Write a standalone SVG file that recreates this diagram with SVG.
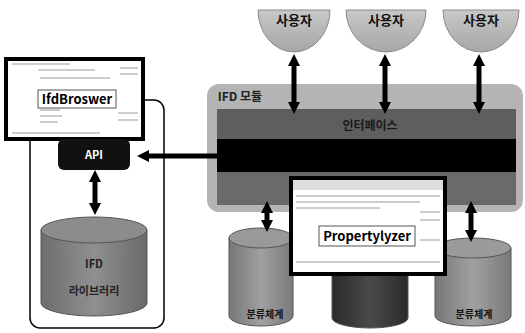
<svg xmlns="http://www.w3.org/2000/svg" width="525" height="333" viewBox="0 0 525 333">
<defs>
<style>
.lbl{font-family:"Noto Sans CJK KR","Noto Sans",sans-serif;font-weight:bold;text-anchor:middle;}
.user{fill:url(#gUser);stroke:#8a8a8a;stroke-width:1}
.cyl{stroke:#555;stroke-width:1}
.arr{stroke:#000;stroke-width:5;fill:none}
.shot{fill:#fff;stroke:#000;stroke-width:4}
.ui{stroke:#9a9a9a;stroke-width:1}
</style>
<linearGradient id="gUser" x1="0" y1="0" x2="0" y2="1"><stop offset="0" stop-color="#c8c8c8"/><stop offset="1" stop-color="#a6a6a6"/></linearGradient>
<linearGradient id="gCyl" x1="0" y1="0" x2="1" y2="0"><stop offset="0" stop-color="#6e6e6e"/><stop offset="0.5" stop-color="#8f8f8f"/><stop offset="1" stop-color="#6a6a6a"/></linearGradient>
<linearGradient id="gCylL" x1="0" y1="0" x2="1" y2="0"><stop offset="0" stop-color="#777"/><stop offset="0.5" stop-color="#a0a0a0"/><stop offset="1" stop-color="#7a7a7a"/></linearGradient>
<linearGradient id="gCylD" x1="0" y1="0" x2="1" y2="0"><stop offset="0" stop-color="#2a2a2a"/><stop offset="0.5" stop-color="#4a4a4a"/><stop offset="1" stop-color="#2a2a2a"/></linearGradient>
<marker id="ah" viewBox="0 0 10 10" refX="5" refY="5" markerWidth="2.4" markerHeight="2.4" orient="auto-start-reverse"><path d="M0,0 L10,5 L0,10 z" fill="#000"/></marker>
</defs>
<rect width="525" height="333" fill="#fff"/>

<!-- IFD module -->
<g id="ifd-module">
<rect x="207" y="84" width="316" height="128" rx="12" fill="#b4b4b4"/>
<rect x="217" y="109" width="299" height="96" fill="#4a4a4a"/>
<rect x="217" y="109" width="299" height="30" fill="#5e5e5e"/>
<rect x="217" y="139" width="299" height="33" fill="#000"/>
<rect x="217" y="172" width="299" height="33" fill="#6a6a6a"/>
<text class="lbl" x="240" y="101" font-size="12" fill="#222">IFD 모듈</text>
<text class="lbl" x="370" y="130" font-size="12" fill="#1a1a1a">인터페이스</text>
</g>

<!-- users -->
<g id="user1"><path class="user" d="M258,10 L330,10 A36,42 0 0 1 258,10 Z"/><text class="lbl" x="294" y="25" font-size="13" fill="#111">사용자</text></g>
<g id="user2"><path class="user" d="M346,10 L426,10 A40,42 0 0 1 346,10 Z"/><text class="lbl" x="386" y="25" font-size="13" fill="#111">사용자</text></g>
<g id="user3"><path class="user" d="M443,10 L519,10 A38,42 0 0 1 443,10 Z"/><text class="lbl" x="481" y="25" font-size="13" fill="#111">사용자</text></g>

<!-- left container -->
<g id="ifd-browser-group">
<rect x="30" y="100" width="134" height="228" rx="10" fill="none" stroke="#000" stroke-width="1.5"/>
</g>
<g id="ifd-browser">
<rect class="shot" x="6" y="59" width="137" height="80"/>
<line class="ui" x1="12" y1="64" x2="70" y2="64"/>
<line class="ui" x1="38" y1="70" x2="95" y2="70"/>
<line class="ui" x1="40" y1="78" x2="110" y2="78"/>
<line class="ui" x1="120" y1="68" x2="138" y2="68"/>
<line class="ui" x1="120" y1="74" x2="138" y2="74"/>
<line class="ui" x1="40" y1="110" x2="60" y2="110"/>
<line class="ui" x1="40" y1="116" x2="62" y2="116"/>
<line class="ui" x1="40" y1="122" x2="58" y2="122"/>
<line class="ui" x1="118" y1="113" x2="138" y2="113"/>
<line class="ui" x1="118" y1="120" x2="138" y2="120"/>
<line class="ui" x1="12" y1="133" x2="100" y2="133"/>
<rect x="38" y="90" width="78" height="18" fill="#fff" stroke="#555" stroke-width="1"/>
<text class="lbl" x="77" y="104" font-size="13" fill="#000" font-family="Liberation Sans,sans-serif">IfdBroswer</text>
</g>
<g id="api">
<rect x="58" y="139" width="72" height="31" rx="6" fill="#111"/>
<text class="lbl" x="94" y="159" font-size="11" fill="#fff">API</text>
</g>
<g id="ifd-library">
<path class="cyl" d="M41,230 L41,303 A53,13 0 0 0 147,303 L147,230 Z" fill="url(#gCyl)"/>
<ellipse class="cyl" cx="94" cy="230" rx="53" ry="13" fill="#8c8c8c"/>
<text class="lbl" x="94" y="268" font-size="11" fill="#222">IFD</text>
<text class="lbl" x="94" y="295" font-size="11" fill="#222">라이브러리</text>
</g>

<!-- bottom cylinders -->
<g id="db-left">
<path class="cyl" d="M229,238 L229,316 A32,10 0 0 0 293,316 L293,238 Z" fill="url(#gCylL)"/>
<ellipse class="cyl" cx="261" cy="238" rx="32" ry="10" fill="#999"/>
<text class="lbl" x="265" y="318" font-size="10" fill="#111">분류체계</text>
</g>
<g id="db-mid">
<path class="cyl" d="M332,262 L332,318 A38,10 0 0 0 408,318 L408,262 Z" fill="url(#gCylD)"/>
</g>
<g id="db-right">
<path class="cyl" d="M435,248 L435,316 A38,10 0 0 0 511,316 L511,248 Z" fill="url(#gCylL)"/>
<ellipse class="cyl" cx="473" cy="248" rx="38" ry="10" fill="#9a9a9a"/>
<text class="lbl" x="474" y="318" font-size="10" fill="#111">분류체계</text>
</g>

<!-- Propertylyzer -->
<g id="propertylyzer">
<rect class="shot" x="291" y="178" width="154" height="96"/>
<rect x="293" y="180" width="150" height="10" fill="#ddd"/>
<line class="ui" x1="296" y1="196" x2="440" y2="196"/>
<line class="ui" x1="296" y1="202" x2="420" y2="202"/>
<line class="ui" x1="296" y1="208" x2="380" y2="208"/>
<line class="ui" x1="420" y1="212" x2="440" y2="212"/>
<line class="ui" x1="420" y1="220" x2="440" y2="220"/>
<line class="ui" x1="420" y1="240" x2="440" y2="240"/>
<line class="ui" x1="296" y1="262" x2="440" y2="262"/>
<rect x="319" y="226" width="96" height="20" fill="#fff" stroke="#555" stroke-width="1"/>
<text class="lbl" x="367" y="241" font-size="13" fill="#000" font-family="Liberation Sans,sans-serif">Propertylyzer</text>
</g>

<!-- connectors -->
<g id="connectors">
<line class="arr" x1="294" y1="60" x2="294" y2="108" marker-start="url(#ah)" marker-end="url(#ah)"/>
<line class="arr" x1="385" y1="60" x2="385" y2="108" marker-start="url(#ah)" marker-end="url(#ah)"/>
<line class="arr" x1="479" y1="60" x2="479" y2="108" marker-start="url(#ah)" marker-end="url(#ah)"/>
<line class="arr" x1="217" y1="156" x2="143" y2="156" marker-end="url(#ah)"/>
<line class="arr" x1="95" y1="176" x2="95" y2="209" marker-start="url(#ah)" marker-end="url(#ah)"/>
<line class="arr" x1="267" y1="207" x2="267" y2="226" marker-start="url(#ah)" marker-end="url(#ah)"/>
<line class="arr" x1="471" y1="207" x2="471" y2="236" marker-start="url(#ah)" marker-end="url(#ah)"/>
</g>
</svg>
